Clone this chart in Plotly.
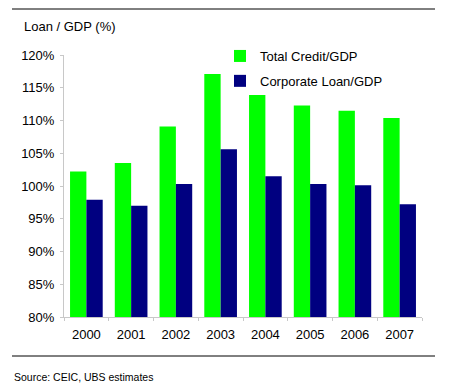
import plotly.graph_objects as go

years = ["2000", "2001", "2002", "2003", "2004", "2005", "2006", "2007"]
total_credit = [102.2, 103.5, 109.1, 117.1, 113.9, 112.3, 111.5, 110.4]
corporate_loan = [97.9, 97.0, 100.3, 105.6, 101.5, 100.3, 100.1, 97.2]
y_ticks = [80, 85, 90, 95, 100, 105, 110, 115, 120]
y_tick_text = [f"{v}%" for v in y_ticks]

L, R, T, B = 64, 422, 55, 317
W, H = 450, 389
pw, ph = R - L, B - T

def px(x):
    return (x - L) / pw

def py(y):
    return (B - y) / ph

fig = go.Figure()
fig.add_trace(go.Bar(x=years, y=total_credit, name="Total Credit/GDP",
                     marker=dict(color="#00FF00", line=dict(width=0)),
                     legendgroup="a"))
fig.add_trace(go.Bar(x=years, y=corporate_loan, name="Corporate Loan/GDP",
                     marker=dict(color="#000080", line=dict(width=0)),
                     legendgroup="b"))

font = "Liberation Sans, Arial, sans-serif"
fig.update_layout(
    width=W, height=H,
    margin=dict(l=L, r=W - R, t=T, b=H - B, pad=0),
    paper_bgcolor="white", plot_bgcolor="white",
    barmode="group", bargap=0.27, bargroupgap=0,
    font=dict(family=font, size=12, color="#000000"),
    showlegend=True,
    legend=dict(x=px(220), y=py(41), xanchor="left", yanchor="top",
                bgcolor="rgba(0,0,0,0)", font=dict(size=13),
                tracegroupgap=5, itemwidth=30),
    xaxis=dict(showline=True, linecolor="#C8C8C8", linewidth=1,
               ticks="outside", tickson="boundaries", ticklen=3,
               tickcolor="#C8C8C8", showgrid=False, ticklabelstandoff=5,
               tickfont=dict(size=13), fixedrange=True),
    yaxis=dict(range=[80, 120], tickvals=y_ticks, ticktext=y_tick_text,
               showline=True, linecolor="#C8C8C8", linewidth=1,
               ticks="outside", ticklen=3, tickcolor="#C8C8C8",
               showgrid=False, zeroline=False, ticklabelstandoff=3,
               tickfont=dict(size=13), fixedrange=True),
    shapes=[
        dict(type="line", xref="paper", yref="paper",
             x0=px(12), x1=px(435), y0=py(9), y1=py(9),
             line=dict(color="#000000", width=1)),
        dict(type="line", xref="paper", yref="paper",
             x0=px(12), x1=px(435), y0=py(356), y1=py(356),
             line=dict(color="#000000", width=1)),
    ],
    annotations=[
        dict(text="Loan / GDP (%)", xref="paper", yref="paper",
             x=px(22), y=py(26), xanchor="left", yanchor="middle",
             showarrow=False, font=dict(size=13)),
        dict(text="Source: CEIC, UBS estimates", xref="paper", yref="paper",
             x=px(12), y=py(377), xanchor="left", yanchor="middle",
             showarrow=False, font=dict(size=10.5)),
    ],
)

fig.write_html("out.html", config={"displayModeBar": False},
               post_script="document.body.style.margin='0';document.body.style.overflow='hidden';")
